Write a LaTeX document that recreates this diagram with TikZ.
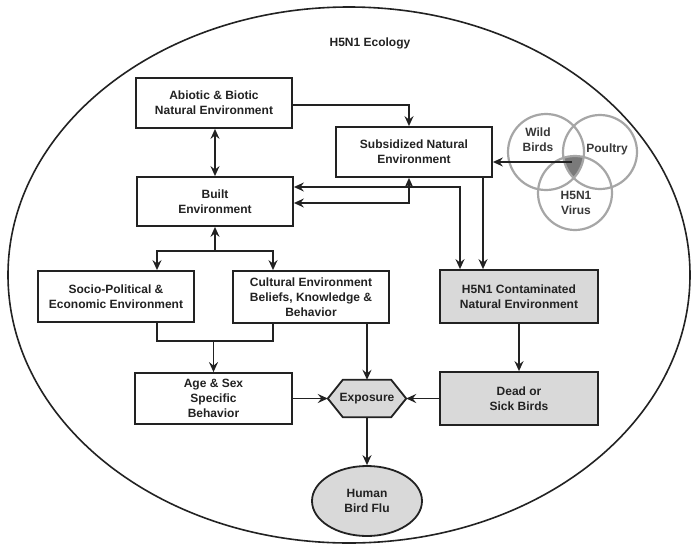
\documentclass[tikz,border=0pt]{standalone}
\usepackage{fontspec}
\setmainfont{Liberation Sans}
\usetikzlibrary{arrows.meta,calc,shapes.geometric}
\definecolor{ink}{HTML}{222222}
\definecolor{boxgray}{HTML}{D9D9D9}
\definecolor{venngray}{HTML}{A6A6A6}
\definecolor{darkfill}{HTML}{7A7A7A}
\tikzset{
  txt/.style={font=\bfseries\fontsize{12}{15}\selectfont, text=ink, align=center},
  wbox/.style={txt, draw=ink, line width=1.8pt, fill=white, inner sep=0pt},
  gbox/.style={wbox, fill=boxgray},
  conn/.style={draw=ink, line width=1.8pt},
  arr/.style={conn, -{Stealth[length=10pt,width=9pt,inset=3.5pt]}},
  darr/.style={conn, {Stealth[length=10pt,width=9pt,inset=3.5pt]}-{Stealth[length=10pt,width=9pt,inset=3.5pt]}},
  venn/.style={draw=venngray, line width=2.2pt},
}
\begin{document}
\begin{tikzpicture}[x=1pt,y=-1pt]
\useasboundingbox (0,0) rectangle (691,547);
\fill[white] (0,0) rectangle (691,547);
% outer ellipse
\draw[conn, line width=1.6pt] (349,275) ellipse [x radius=341, y radius=268];
\node[txt] (title) at (370,43) {H5N1 Ecology};

% boxes
\node[wbox, minimum width=156pt, minimum height=50pt] (abiotic) at (214,103) {Abiotic \& Biotic\\Natural Environment};
\node[wbox, minimum width=156pt, minimum height=49pt] (built) at (215,201.5) {Built\\Environment};
\node[wbox, minimum width=156pt, minimum height=50pt] (subs) at (414,152) {Subsidized Natural\\Environment};
\node[gbox, minimum width=158pt, minimum height=53pt] (cont) at (519,296.5) {H5N1 Contaminated\\Natural Environment};
\node[gbox, minimum width=158pt, minimum height=53pt] (dead) at (519,398.5) {Dead or\\Sick Birds};
\node[wbox, minimum width=156pt, minimum height=52pt] (cult) at (311,297) {Cultural Environment\\Beliefs, Knowledge \&\\Behavior};
\node[wbox, minimum width=156pt, minimum height=51pt] (socio) at (116,296.5) {Socio-Political \&\\Economic Environment};
\node[wbox, minimum width=157pt, minimum height=51pt] (age) at (213.5,398.5) {Age \& Sex\\Specific\\Behavior};

% exposure hexagon
\node[txt, minimum width=78pt, minimum height=37pt, inner sep=0pt] (exp) at (367,398.5) {};
\draw[conn, fill=boxgray] (exp.west) -- ($(exp.north west)+(15,0)$) -- ($(exp.north east)+(-15,0)$) -- (exp.east) -- ($(exp.south east)+(-15,0)$) -- ($(exp.south west)+(15,0)$) -- cycle;
\node[txt] at (exp.center) {Exposure};

% human bird flu
\node[txt, draw=ink, line width=1.8pt, fill=boxgray, ellipse, minimum width=110pt, minimum height=70pt, inner sep=0pt] (human) at (367,501) {Human\\Bird Flu};

% venn
\coordinate (cw) at (546,152);
\coordinate (cp) at (600,152);
\coordinate (cv) at (575,193);
\begin{scope}
  \clip (cw) circle (38);
  \clip (cp) circle (37);
  \fill[darkfill] (cv) circle (37);
\end{scope}
\draw[venn] (cw) circle (38);
\draw[venn] (cp) circle (37);
\draw[venn] (cv) circle (37);
\node[txt, text=ink!90] (wild) at (538,140) {Wild\\Birds};
\node[txt, text=ink!90] (poultry) at (607,149) {Poultry};
\node[txt, text=ink!90] (virus) at (576,203) {H5N1\\Virus};
\coordinate (vsrc) at (572,162);

% connectors
\draw[arr] ([yshift=-2pt]abiotic.east) -| ([xshift=-5pt]subs.north);
\draw[darr] (abiotic.south -| built.north) -- (built.north);
\draw[darr] ([yshift=-1.5pt]built.east) -| ([xshift=-5pt]subs.south);
\draw[darr] ([yshift=14.5pt]built.east) -| ([xshift=-59pt]cont.north);
\draw[arr] ([xshift=69pt]subs.south) -- ([xshift=69pt]subs.south |- cont.north);
\draw[arr] (vsrc) -- (subs.east |- vsrc);

\coordinate (j1) at (215,251);
\draw[darr] ([xshift=41pt]socio.north) |- (j1) -| ([xshift=-38pt]cult.north);
\draw[arr] (j1) -- (built.south);

\coordinate (j2) at (213.5,341);
\draw[conn] ([xshift=41pt]socio.south) |- (j2) -| ([xshift=-38pt]cult.south);
\draw[arr] (j2) -- (age.north);

\draw[arr] (exp.north |- cult.south) -- (exp.north);
\draw[arr] (age.east) -- (exp.west);
\draw[arr] (dead.west) -- (exp.east);
\draw[arr] (cont.south) -- (dead.north);
\draw[arr] (exp.south) -- (human.north);
\end{tikzpicture}
\end{document}
